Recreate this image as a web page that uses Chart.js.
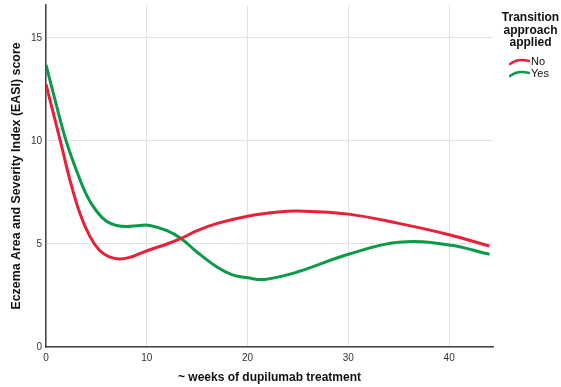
<!DOCTYPE html>
<html>
<head>
<meta charset="utf-8">
<script src="https://cdn.jsdelivr.net/npm/chart.js@4/dist/chart.umd.min.js"></script>
<style>
  html, body { margin: 0; padding: 0; background: #fff; }
  #wrap { position: relative; width: 561px; height: 387px; font-family: "Liberation Sans", Arial, sans-serif; }
  #legend { position: absolute; left: 494px; top: 11px; width: 73px; height: 90px; text-align: center; color: #111; }
  #legend .title { font-weight: bold; font-size: 12px; line-height: 12.5px; }
  #legend .item { position: absolute; left: 15px; font-size: 11px; line-height: 12px; white-space: nowrap; text-align: left; }
  #legend .item svg { vertical-align: middle; margin-right: 1px; }
</style>
</head>
<body>
<div id="wrap">
  <canvas id="c" width="561" height="387"></canvas>
  <div id="legend">
    <div class="title">Transition<br>approach<br>applied</div>
  </div>
</div>
<script>
const seriesNames = ["No", "Yes"];
const weeksNo = [0, 0.75, 1.5, 2.35, 3.35, 4.35, 5.3, 6.3, 7.3, 8.3, 9.3, 10.3, 12, 13.4, 15, 17, 20, 23, 25, 30, 35, 40, 44];
const easiNo  = [12.75, 11.3, 9.85, 8.15, 6.5, 5.37, 4.7, 4.37, 4.27, 4.35, 4.53, 4.72, 5.0, 5.27, 5.65, 6.0, 6.35, 6.55, 6.6, 6.45, 6.0, 5.45, 4.9];
const weeksYes = [0, 1, 2, 3, 4, 5, 6, 7, 8, 9.3, 10.3, 12, 13.4, 15, 17, 18.5, 20, 21.7, 25, 30, 35, 40, 44];
const easiYes  = [13.7, 11.8, 10.0, 8.6, 7.4, 6.6, 6.1, 5.9, 5.85, 5.9, 5.9, 5.65, 5.27, 4.6, 3.87, 3.5, 3.36, 3.28, 3.65, 4.5, 5.08, 4.95, 4.5];
const xTicks = [0, 10, 20, 30, 40];
const yTicks = [0, 5, 10, 15];
const colors = ["#E8203A", "#0B9A47"];

const toPts = (xs, ys) => xs.map((x, i) => ({ x: x, y: ys[i] }));

// HTML legend
const legend = document.getElementById('legend');
seriesNames.forEach((name, i) => {
  const d = document.createElement('div');
  d.className = 'item';
  d.style.top = (44 + i * 12) + 'px';
  d.innerHTML = '<svg width="21" height="8"><path d="M1,6 C6,2 13,1 20,3" stroke="' + colors[i] + '" stroke-width="2.5" fill="none" stroke-linecap="round"/></svg>' + name;
  legend.appendChild(d);
});

new Chart(document.getElementById('c'), {
  type: 'line',
  data: {
    datasets: [
      { label: seriesNames[0], data: toPts(weeksNo, easiNo), borderColor: colors[0], borderWidth: 3, pointRadius: 0, tension: 0.4, fill: false },
      { label: seriesNames[1], data: toPts(weeksYes, easiYes), borderColor: colors[1], borderWidth: 3, pointRadius: 0, tension: 0.4, fill: false }
    ]
  },
  options: {
    responsive: false,
    animation: false,
    layout: { padding: { left: 0, right: 68, top: 5, bottom: 0 } },
    plugins: { legend: { display: false }, tooltip: { enabled: false } },
    scales: {
      x: {
        type: 'linear',
        min: 0,
        max: 44.35,
        afterBuildTicks: (s) => { s.ticks = xTicks.map(v => ({ value: v })); },
        afterFit: (s) => { s.height = 40; },
        grid: { color: '#e2e2e2', drawTicks: false, lineWidth: 1 },
        border: { color: '#444', width: 1.5 },
        ticks: { font: { family: 'Liberation Sans', size: 10 }, color: '#333', padding: 5, maxRotation: 0 },
        title: { display: true, text: '~ weeks of dupilumab treatment', font: { family: 'Liberation Sans', size: 12, weight: 'bold' }, color: '#111', padding: { top: 0, bottom: 2 } }
      },
      y: {
        type: 'linear',
        min: 0,
        max: 16.6,
        afterBuildTicks: (s) => { s.ticks = yTicks.map(v => ({ value: v })); },
        afterFit: (s) => { s.width = 46; s.paddingTop = 0; s.paddingBottom = 0; },
        grid: { color: '#e2e2e2', drawTicks: false, lineWidth: 1 },
        border: { color: '#444', width: 1.5 },
        ticks: { font: { family: 'Liberation Sans', size: 10, lineHeight: 0.1 }, color: '#333', padding: 4 },
        title: { display: true, text: 'Eczema Area and Severity Index (EASI) score', font: { family: 'Liberation Sans', size: 12.4, weight: 'bold' }, color: '#111', padding: { top: 9, bottom: 0 } }
      }
    }
  }
});
</script>
</body>
</html>
